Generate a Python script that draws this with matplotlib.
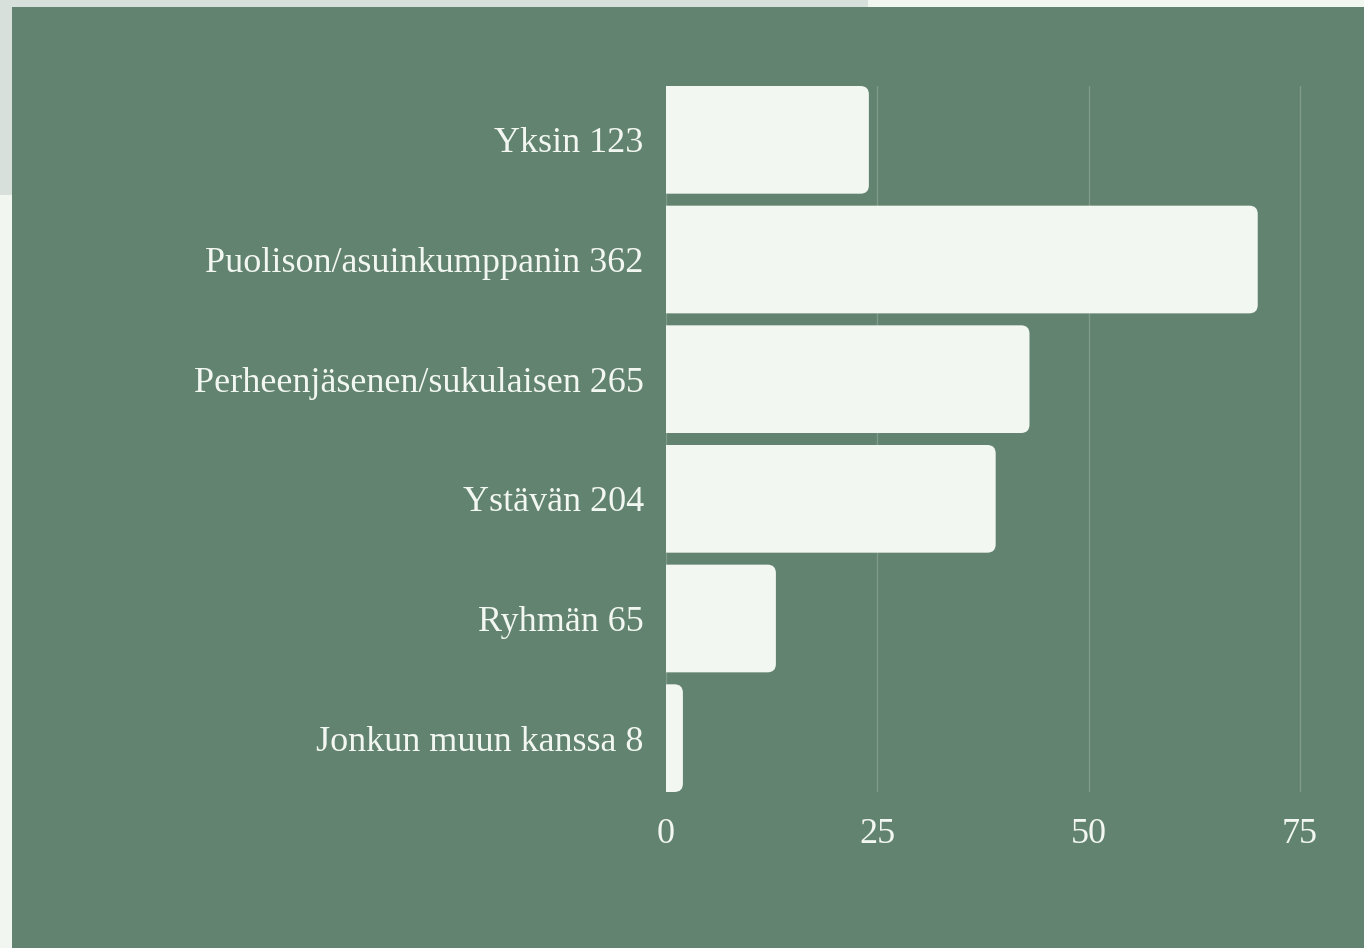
import matplotlib.pyplot as plt
from matplotlib.patches import FancyBboxPatch, Rectangle

labels = ["Yksin 123", "Puolison/asuinkumppanin 362", "Perheenjäsenen/sukulaisen 265",
          "Ystävän 204", "Ryhmän 65", "Jonkun muun kanssa 8"]
values = [24, 70, 43, 39, 13, 2]
ticks = [0, 25, 50, 75]

green = "#62836f"
light = "#f2f7f1"

plt.rcParams["font.family"] = ["Liberation Serif", "DejaVu Serif"]

fig = plt.figure(figsize=(13.64, 9.48), dpi=100)
fig.patch.set_facecolor("#f1f6f1")
# background blocks
fig.add_artist(Rectangle((0, 1 - 195 / 948), 868 / 1364, 195 / 948, transform=fig.transFigure,
                         facecolor="#d7e0da", edgecolor="none", zorder=0))
fig.add_artist(Rectangle((12 / 1364, 0), 1 - 12 / 1364, 1 - 7 / 948, transform=fig.transFigure,
                         facecolor=green, edgecolor="none", zorder=0))

# x: 0 -> 666px, 75 -> 1300px; axes extended to 76 so the 75 gridline shows
px_per_unit = (1300 - 666) / 75
ax = fig.add_axes([666 / 1364, 1 - 792 / 948, 76 * px_per_unit / 1364, (792 - 86) / 948])
ax.set_facecolor("none")
ax.set_xlim(0, 76)
h = 0.9
ax.set_ylim(len(values) - 1 + h / 2, -h / 2)

r = 1.0
for i, v in enumerate(values):
    box = FancyBboxPatch((-2 * r, i - h / 2), v + 2 * r, h,
                         boxstyle=f"round,pad=0,rounding_size={r}",
                         mutation_aspect=0.07, facecolor=light, edgecolor="none", zorder=3)
    ax.add_patch(box)

ax.set_xticks(ticks)
ax.set_xticklabels([str(t) for t in ticks], fontsize=26, color=light)
ax.set_yticks(range(len(labels)))
ax.set_yticklabels(labels, fontsize=26, color=light)
ax.tick_params(axis="both", length=0)
ax.tick_params(axis="x", pad=19)
ax.tick_params(axis="y", pad=16)
ax.grid(axis="x", color="#7f9c8a", linewidth=1)
ax.set_axisbelow(True)
for s in ax.spines.values():
    s.set_visible(False)

fig.savefig("out.png", dpi=100, facecolor=fig.get_facecolor())
